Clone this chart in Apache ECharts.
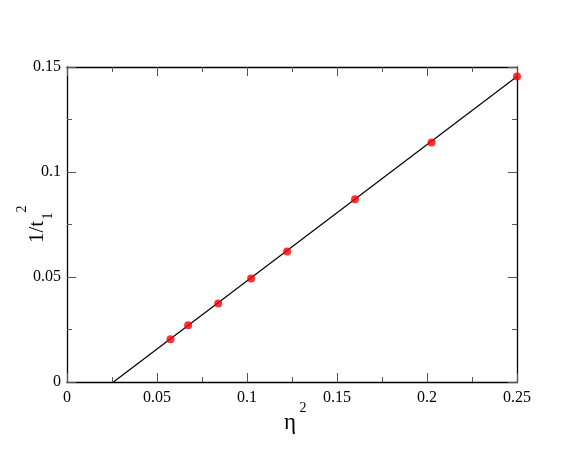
<!DOCTYPE html>
<html><head><meta charset="utf-8">
<script src="https://cdn.jsdelivr.net/npm/echarts@6/dist/echarts.min.js"></script>
<style>html,body{margin:0;padding:0;background:#fff}#c{width:581px;height:449px}</style>
</head><body><div id="c"></div>
<script>
// data
const etaSq = [0.0575, 0.0673, 0.084, 0.1023, 0.1223, 0.16, 0.2025, 0.25];
const invT1Sq = [0.0203, 0.0270, 0.0374, 0.0493, 0.0622, 0.0870, 0.1141, 0.1455];
const fitX = [0.0258, 0.25];
const fitY = [0, 0.1455];
const xTicks = ['0', '0.05', '0.1', '0.15', '0.2', '0.25'];
const yTicks = ['0', '0.05', '0.1', '0.15'];

const chart = echarts.init(document.getElementById('c'), null, {renderer: 'canvas'});
const font = "'Liberation Serif', 'Times New Roman', serif";
const fmt = v => String(+v.toFixed(3));
function axisBase(pos, showLabel, isX) {
  return {
    type: 'value', position: pos, min: 0, max: isX ? 0.25 : 0.15, interval: 0.05,
    splitLine: {show: false},
    axisLine: {show: true, onZero: false, lineStyle: {color: '#000', width: 1.3}},
    axisTick: {show: true, inside: true, length: 9, lineStyle: {color: '#555', width: 1}},
    minorTick: {show: true, splitNumber: 2, length: 5, lineStyle: {color: '#555', width: 1}},
    axisLabel: {show: showLabel, color: '#000', fontFamily: font, fontSize: 16, margin: isX ? 8 : 6,
      formatter: v => fmt(v)}
  };
}
const option = {
  animation: false,
  backgroundColor: '#fff',
  grid: {left: 67, right: 64, top: 67, bottom: 67, containLabel: false},
  xAxis: [axisBase('bottom', true, true), axisBase('top', false, true)],
  yAxis: [axisBase('left', true, false), axisBase('right', false, false)],
  series: [
    {type: 'line', data: fitX.map((x, i) => [x, fitY[i]]), symbol: 'none',
      lineStyle: {color: '#000', width: 1.2}, z: 2},
    {type: 'scatter', data: etaSq.map((x, i) => [x, invT1Sq[i]]), symbol: 'circle', symbolSize: 8,
      itemStyle: {color: '#ff0000'}, z: 3}
  ],
  graphic: [
    {type: 'text', x: 37, y: 232, rotation: Math.PI / 2,
      style: {text: '1/t', font: '21px ' + font, fill: '#000', align: 'center', verticalAlign: 'middle'}},
    {type: 'text', x: 48, y: 216, rotation: Math.PI / 2,
      style: {text: '1', font: '14px ' + font, fill: '#000', align: 'center', verticalAlign: 'middle'}},
    {type: 'text', x: 22, y: 209, rotation: Math.PI / 2,
      style: {text: '2', font: '14px ' + font, fill: '#000', align: 'center', verticalAlign: 'middle'}},
    {type: 'text', x: 290, y: 423,
      style: {text: 'η', font: '23px ' + font, fill: '#000', align: 'center', verticalAlign: 'middle'}},
    {type: 'text', x: 303, y: 408,
      style: {text: '2', font: '14px ' + font, fill: '#000', align: 'center', verticalAlign: 'middle'}}
  ]
};
chart.setOption(option);
</script></body></html>
